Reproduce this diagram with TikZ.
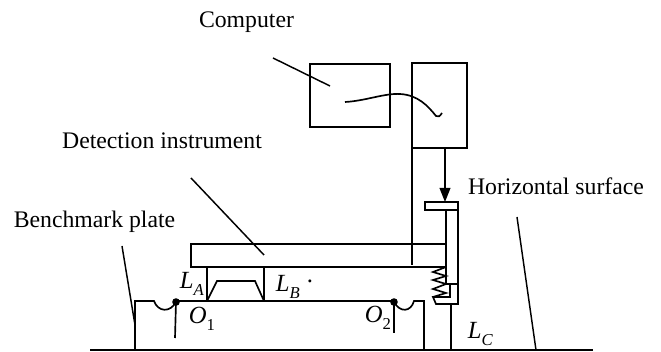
\documentclass[tikz,border=0pt]{standalone}
\usepackage{fontspec}
\setmainfont{Liberation Serif}
\usetikzlibrary{arrows.meta}
\newcommand{\sublabel}[2]{\textit{#1}\raisebox{-.25em}{\fontsize{12.5}{12}\selectfont #2}}
\begin{document}
\begin{tikzpicture}[x=0.75pt,y=-0.75pt,line width=1.25pt,line join=miter]

      \useasboundingbox (0,0) rectangle (661,352);

      \begin{scope}[every node/.style={font=\fontsize{17.8}{20}\selectfont,inner sep=0pt}]
        \node (computer)   at (246.5,22.5)  {Computer};
        \node (detection)  at (162,141) {Detection instrument};
        \node (benchmark)  at (94.5,221.5)  {Benchmark plate};
        \node (horizontal) at (556,186) {Horizontal surface};
      \end{scope}

      \begin{scope}[every node/.style={font=\fontsize{18.5}{20}\selectfont,inner sep=0pt,anchor=base west}]
        \node (la) at (179,289) {\sublabel{L}{\textit{A}}};
        \node (lb) at (275,292) {\sublabel{L}{\textit{B}}};
        \node (o1) at (188,324) {\sublabel{O}{1}};
        \node (o2) at (364,323) {\sublabel{O}{2}};
        \node (lc) at (467,339) {\sublabel{L}{\textit{C}}};
        \node (speck) at (306,283) {.};
      \end{scope}

      \begin{scope}[every node/.style={rectangle,draw,inner sep=0pt}]
        \node (pc)  at (350,95.5)  [minimum width=60pt,minimum height=47.25pt] {};
        \node (ctl) at (439.5,105.5) [minimum width=41.25pt,minimum height=63.75pt] {};
        \node (bar) at (318.5,255.5) [minimum width=191.25pt,minimum height=17.25pt] {};
      \end{scope}

      \coordinate (groundl) at (90,350);
      \coordinate (groundr) at (593,350);
      \coordinate (dotl) at (176,302);
      \coordinate (dotr) at (394,302);
      \coordinate (cap) at (445,202);

      % ground and plate
      \draw (groundl) -- (groundr);
      \draw (135,350) -- (135,301) -- (154,301) .. controls (158,312) and (170,313) .. (dotl);
      \draw (dotl) -- (176,301) -- (394,301) -- (dotr);
      \draw (dotr) .. controls (400,313) and (411,312) .. (414,301) -- (424,301) -- (424,350);
      \draw (dotl) -- (175,338);
      \draw (dotr) -- (394,333);
      \fill (dotl) circle (3.8);
      \fill (dotr) circle (3.8);

      % under the bar
      \draw (207,267) -- (207,301);
      \draw (264,267) -- (264,301);
      \draw (207,301) -- (217,281) -- (255,281) -- (264,301);

      % column, cap and spring
      \draw (425,202) rectangle (458,210);
      \draw (446,210) -- (446,284) -- (458,284);
      \draw (458,210) -- (458,304) -- (436,304) -- (433,297) -- (450,297) -- (450,284);
      \draw (446,267) -- (433,272) -- (446,276) -- (433,280) -- (446,284) -- (433,289) -- (446,293) -- (433,297);
      \draw (451,304) -- (451,350);

      % from the upper box
      \draw (412,148) -- (412,265);
      \draw[-{Triangle[length=10.5pt,width=8pt]}] (445,148) -- (cap);
      \draw (345,102) .. controls (365,101) and (385,93) .. (400,94)
        .. controls (418,95) and (428,106) .. (436,116) .. controls (438,118) and (440,116) .. (442,113);

      % pointers
      \begin{scope}[line width=1.1pt]
        \draw (273,58) -- (330,86);
        \draw (191,178) -- (264,255);
        \draw (122,246) -- (135,325);
        \draw (517,217) -- (536,350);
      \end{scope}

    \end{tikzpicture}
\end{document}
